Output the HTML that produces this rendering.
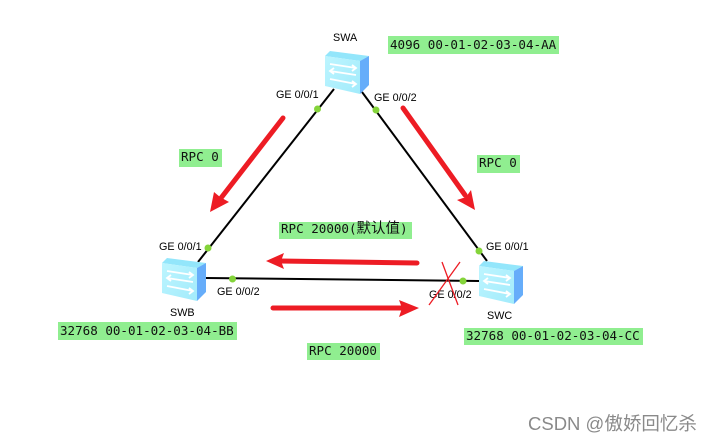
<!DOCTYPE html>
<html><head><meta charset="utf-8">
<style>
html,body{margin:0;padding:0;background:#fff;width:714px;height:443px;overflow:hidden}
svg{display:block}
.m{font:12.55px "DejaVu Sans Mono","Liberation Mono","Noto Sans CJK SC",monospace;fill:#111}
.c{font:14.5px "WenQuanYi Zen Hei","Noto Sans CJK SC",sans-serif;fill:#111}
.l{font:10.8px "Liberation Sans",sans-serif;fill:#000}
</style></head><body>
<svg width="714" height="443" viewBox="0 0 714 443" xmlns="http://www.w3.org/2000/svg">
<defs>
<linearGradient id="f" x1="0" y1="0" x2="1" y2="1"><stop offset="0" stop-color="#bdf5ff"/><stop offset="1" stop-color="#a2ebfb"/></linearGradient>
<g id="sw">
<polygon points="5,1 44,6 35,11 0,6" fill="#93e6fb"/>
<polygon points="0,6 35,11 35,44 0,36" fill="url(#f)"/>
<polygon points="35,11 44,6 44,35 35,44" fill="#66adfa"/>
<g fill="none" stroke="#fff" stroke-width="1.800">
<path d="M5,14 L31,18 M27,15 L31,18 L27,21"/>
<path d="M31,25 L5,21 M9,18 L5,21 L9,24"/>
<path d="M5,29 L31,34 M27,31 L31,34 L27,37"/>
</g>
</g>
</defs>
<rect width="714" height="443" fill="#fff"/>
<g stroke="#000" stroke-width="2" fill="none">
<line x1="334" y1="89" x2="198" y2="262"/>
<line x1="362" y1="92" x2="487" y2="261"/>
<line x1="206" y1="278" x2="479" y2="281"/>
</g>
<use href="#sw" x="325" y="50"/>
<use href="#sw" x="162" y="257"/>
<use href="#sw" x="479" y="260"/>
<g fill="#84d43a">
<circle cx="317.500" cy="109" r="3.500"/>
<circle cx="376" cy="110" r="3.500"/>
<circle cx="208" cy="248" r="3.500"/>
<circle cx="479" cy="251" r="3.500"/>
<circle cx="232.500" cy="279" r="3.500"/>
<circle cx="463" cy="281" r="3.500"/>
</g>
<g fill="#90ee90">
<rect x="388" y="36" width="171" height="18"/>
<rect x="179" y="149" width="43" height="18"/>
<rect x="477" y="155" width="43" height="18"/>
<rect x="279" y="222" width="133" height="17"/>
<rect x="307" y="343" width="73" height="17"/>
<rect x="58" y="322" width="179" height="18"/>
<rect x="464" y="328" width="179" height="17"/>
</g>
<text class="m" x="390" y="49">4096 00-01-02-03-04-AA</text>
<text class="m" x="181" y="161">RPC 0</text>
<text class="m" x="479" y="167">RPC 0</text>
<text class="m" x="281" y="233">RPC 20000(<tspan class="c">默认值</tspan>)</text>
<text class="m" x="309" y="355">RPC 20000</text>
<text class="m" x="60" y="335">32768 00-01-02-03-04-BB</text>
<text class="m" x="466" y="340">32768 00-01-02-03-04-CC</text>
<text class="l" x="333" y="41">SWA</text>
<text class="l" x="170" y="316">SWB</text>
<text class="l" x="487" y="319">SWC</text>
<text class="l" x="276" y="98">GE 0/0/1</text>
<text class="l" x="374" y="101">GE 0/0/2</text>
<text class="l" x="159" y="250">GE 0/0/1</text>
<text class="l" x="217" y="295">GE 0/0/2</text>
<text class="l" x="486" y="250">GE 0/0/1</text>
<text class="l" x="429" y="298">GE 0/0/2</text>
<g stroke="#ed1c24" stroke-width="5" stroke-linecap="round" fill="none">
<line x1="283" y1="118" x2="221" y2="198"/>
<line x1="403" y1="108" x2="465" y2="195"/>
<line x1="417" y1="263" x2="280" y2="261"/>
<line x1="273" y1="308" x2="404" y2="308"/>
</g>
<g fill="#ed1c24">
<polygon points="210,212 214,192 220,197 229,202"/>
<polygon points="475,210 457,200 466,197 471,190"/>
<polygon points="266,261 284,253 281,261 284,269"/>
<polygon points="419,308 399,300 402,308 399,317"/>
</g>
<g stroke="#ed1c24" stroke-width="1.300" fill="none">
<line x1="460" y1="262" x2="429" y2="305"/>
<line x1="442" y1="262" x2="458" y2="305"/>
</g>
<text x="528" y="430" style="font:18.500px 'Liberation Sans','Noto Sans CJK SC',sans-serif;fill:#8a8a8a">CSDN @傲娇回忆杀</text>
</svg>
</body></html>
